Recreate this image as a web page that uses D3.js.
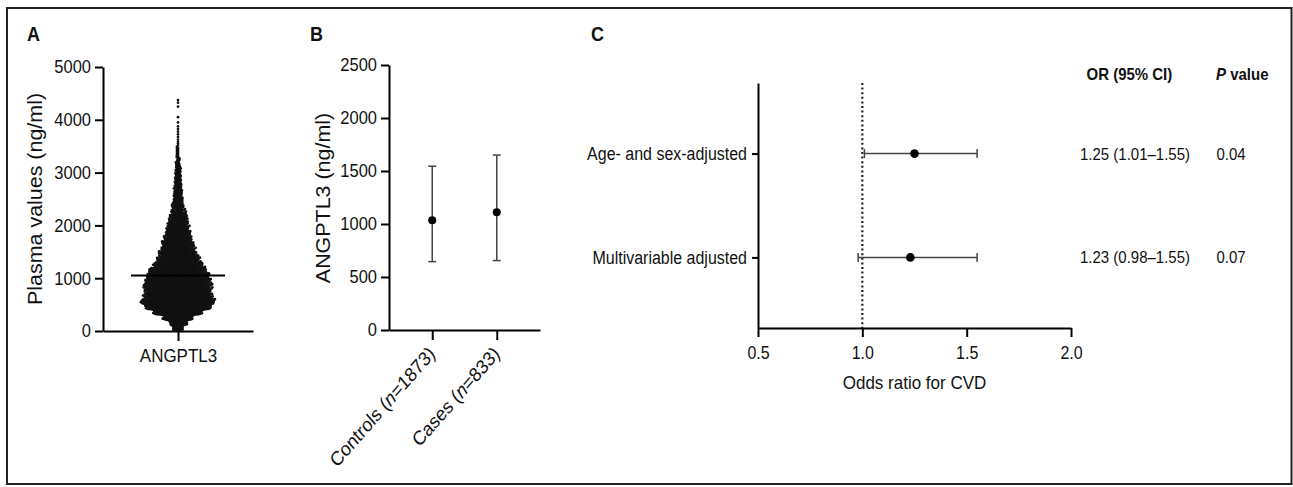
<!DOCTYPE html>
<html lang="en">
<head>
  <meta charset="UTF-8">
  <script src="https://d3js.org/d3.v7.min.js"></script>
  <title>ANGPTL3 and CVD</title>
  <style>
    body { margin: 0; background: #fff; }
    svg { display: block; }
  </style>
</head>
<body>
  <svg width="1293" height="487"></svg>
  <script>
    // A: plasma ANGPTL3, subjects per 100 ng/ml bin
    const BIN = 100
    const binCounts = [22, 36, 62, 104, 140, 154, 145, 138, 142, 137, 128, 117, 102, 88, 79, 67,
      63, 56, 52, 45, 40, 36, 30, 24, 20, 18, 17, 15, 14, 13, 12, 10, 7, 5, 5, 3, 2, 2, 2, 1, 1, 0, 1, 2]
    const medianA = 1050
    const ticksA = [0, 1000, 2000, 3000, 4000, 5000]

    // B: controls vs cases
    const groupNames = ['Controls', 'Cases']
    const groupN = [1873, 833]
    const groupMid = [1035, 1110]
    const groupLow = [645, 655]
    const groupHigh = [1545, 1650]
    const ticksB = [0, 500, 1000, 1500, 2000, 2500]

    // C: odds ratios
    const models = ['Age- and sex-adjusted', 'Multivariable adjusted']
    const orValue = [1.25, 1.23]
    const orLow = [1.01, 0.98]
    const orHigh = [1.55, 1.55]
    const pValues = ['0.04', '0.07']
    const ticksC = [0.5, 1.0, 1.5, 2.0]

    const FONT = '"Liberation Sans", Arial, Helvetica, sans-serif'
    const INK = '#111'
    const BAR = '#444'
    const SY = 1.1 // the source figure is slightly stretched vertically

    const svg = d3.select('svg')
      .attr('font-family', FONT)

    svg.append('rect')
      .attr('x', 7).attr('y', 8)
      .attr('width', 1284.5).attr('height', 476)
      .attr('fill', 'none')
      .attr('stroke', '#222')
      .attr('stroke-width', 2)

    function styleAxis(g, size) {
      g.attr('font-family', FONT).attr('font-size', size)
      g.select('.domain').attr('stroke', '#000').attr('stroke-width', 2)
      g.selectAll('.tick line').attr('stroke', '#000').attr('stroke-width', 2)
      g.selectAll('.tick text').attr('fill', INK).attr('transform', `scale(1,${SY})`)
    }

    function text(x, y, str, opts = {}) {
      const rot = opts.rotate ? ` rotate(${opts.rotate})` : ''
      return svg.append('text')
        .attr('transform', `translate(${x},${y}) scale(1,${opts.sy || SY})${rot}`)
        .attr('font-size', opts.size || 16)
        .attr('font-weight', opts.weight || 'normal')
        .attr('text-anchor', opts.anchor || 'start')
        .attr('fill', INK)
        .text(str)
    }

    // panel letters
    text(27, 41, 'A', { size: 18, weight: 'bold' })
    text(310, 41, 'B', { size: 18, weight: 'bold' })
    text(591, 41, 'C', { size: 18, weight: 'bold' })

    // ---------- A ----------
    const yA = d3.scaleLinear().domain([0, 5000]).range([331, 67])
    const xA = d3.scalePoint().domain(['ANGPTL3']).range([103, 253]).padding(0.5)

    svg.append('g')
      .attr('transform', 'translate(103,0)')
      .call(d3.axisLeft(yA).tickValues(ticksA).tickFormat(d3.format('d'))
        .tickSize(8).tickSizeOuter(0).tickPadding(4))
      .call(styleAxis, 16.5)

    svg.append('g')
      .attr('transform', 'translate(0,331)')
      .call(d3.axisBottom(xA).tickSize(10).tickSizeOuter(0).tickPadding(6))
      .call(styleAxis, 17)

    text(42, 199, 'Plasma values (ng/ml)', { size: 19.5, anchor: 'middle', rotate: -90 })

    // beeswarm of the binned values
    const values = []
    binCounts.forEach((count, i) => {
      for (let j = 0; j < count; j++) values.push(i * BIN + (j + 0.5) * BIN / count)
    })
    const D = 1.6
    const placed = []
    values.sort(d3.ascending).forEach(v => {
      const y = yA(v)
      const near = []
      for (let k = placed.length - 1; k >= 0; k--) {
        if (Math.abs(placed[k].y - y) >= D) break
        near.push(placed[k])
      }
      const cands = [0]
      near.forEach(p => {
        const w = Math.sqrt(D * D - (p.y - y) ** 2)
        cands.push(p.x - w, p.x + w)
      })
      cands.sort((a, b) => Math.abs(a) - Math.abs(b))
      const x = cands.find(c => near.every(p => (p.x - c) ** 2 + (p.y - y) ** 2 >= D * D - 1e-6))
      placed.push({ x, y })
    })

    const cxA = xA('ANGPTL3')
    svg.append('g')
      .selectAll('circle')
      .data(placed)
      .join('circle')
      .attr('cx', d => cxA + d.x)
      .attr('cy', d => d.y)
      .attr('r', 1.35)
      .attr('fill', '#111')

    svg.append('line')
      .attr('x1', cxA - 47).attr('x2', cxA + 47)
      .attr('y1', yA(medianA)).attr('y2', yA(medianA))
      .attr('stroke', '#000')
      .attr('stroke-width', 2)

    // ---------- B ----------
    const yB = d3.scaleLinear().domain([0, 2500]).range([330, 65])
    const xB = d3.scalePoint().domain(groupNames).range([389, 540]).padding(0.67)

    svg.append('g')
      .attr('transform', 'translate(389,0)')
      .call(d3.axisLeft(yB).tickValues(ticksB).tickFormat(d3.format('d'))
        .tickSize(8).tickSizeOuter(0).tickPadding(4))
      .call(styleAxis, 16.5)

    svg.append('g')
      .attr('transform', 'translate(0,330)')
      .call(d3.axisBottom(xB).tickSize(10).tickSizeOuter(0).tickFormat(''))
      .call(styleAxis, 17)

    text(330, 198, 'ANGPTL3 (ng/ml)', { size: 19.5, anchor: 'middle', rotate: -90 })

    groupNames.forEach((name, i) => {
      const t = svg.append('text')
        .attr('transform', `translate(${xB(name) + 4},355) scale(1,1.14) rotate(-45)`)
        .attr('font-size', 17.5)
        .attr('text-anchor', 'end')
        .attr('fill', INK)
      t.append('tspan').text(`${name} (`)
      t.append('tspan').attr('font-style', 'italic').text('n')
      t.append('tspan').text(`=${groupN[i]})`)
    })

    const gB = svg.append('g')
    groupNames.forEach((name, i) => {
      const x = xB(name)
      gB.append('line')
        .attr('x1', x).attr('x2', x)
        .attr('y1', yB(groupLow[i])).attr('y2', yB(groupHigh[i]))
        .attr('stroke', BAR).attr('stroke-width', 1.5)
      ;[groupLow[i], groupHigh[i]].forEach(v => {
        gB.append('line')
          .attr('x1', x - 4).attr('x2', x + 4)
          .attr('y1', yB(v)).attr('y2', yB(v))
          .attr('stroke', BAR).attr('stroke-width', 1.5)
      })
      gB.append('circle')
        .attr('cx', x).attr('cy', yB(groupMid[i]))
        .attr('r', 4)
        .attr('fill', '#000')
    })

    // ---------- C ----------
    const xC = d3.scaleLinear().domain([0.5, 2]).range([758, 1071])
    const yC = d3.scalePoint().domain(models).range([83, 328]).padding(0.68)

    svg.append('g')
      .attr('transform', 'translate(758,0)')
      .call(d3.axisLeft(yC).tickSize(6).tickSizeOuter(0).tickPadding(5))
      .call(styleAxis, 16)

    svg.append('g')
      .attr('transform', 'translate(0,328)')
      .call(d3.axisBottom(xC).tickValues(ticksC).tickFormat(d3.format('.1f'))
        .tickSize(9).tickSizeOuter(0).tickPadding(8))
      .call(styleAxis, 16)

    text((758 + 1071) / 2, 389, 'Odds ratio for CVD', { size: 17, anchor: 'middle' })

    svg.append('line')
      .attr('x1', xC(1)).attr('x2', xC(1))
      .attr('y1', 83).attr('y2', 328)
      .attr('stroke', '#222')
      .attr('stroke-width', 2.2)
      .attr('stroke-dasharray', '2,2.6')

    const gC = svg.append('g')
    models.forEach((m, i) => {
      const y = yC(m)
      gC.append('line')
        .attr('x1', xC(orLow[i])).attr('x2', xC(orHigh[i]))
        .attr('y1', y).attr('y2', y)
        .attr('stroke', BAR).attr('stroke-width', 1.5)
      ;[orLow[i], orHigh[i]].forEach(v => {
        gC.append('line')
          .attr('x1', xC(v)).attr('x2', xC(v))
          .attr('y1', y - 4.5).attr('y2', y + 4.5)
          .attr('stroke', BAR).attr('stroke-width', 1.5)
      })
      gC.append('circle')
        .attr('cx', xC(orValue[i])).attr('cy', y)
        .attr('r', 4.3)
        .attr('fill', '#000')

      const f = d3.format('.2f')
      text(1080, y + 6, `${f(orValue[i])} (${f(orLow[i])}\u2013${f(orHigh[i])})`, { size: 15 })
      text(1216.5, y + 6, pValues[i], { size: 15 })
    })

    text(1086.5, 80, 'OR (95% CI)', { size: 15, weight: 'bold' })
    const pHead = text(1216, 80, '', { size: 15, weight: 'bold' })
    pHead.append('tspan').attr('font-style', 'italic').text('P')
    pHead.append('tspan').text(' value')
  </script>
</body>
</html>
